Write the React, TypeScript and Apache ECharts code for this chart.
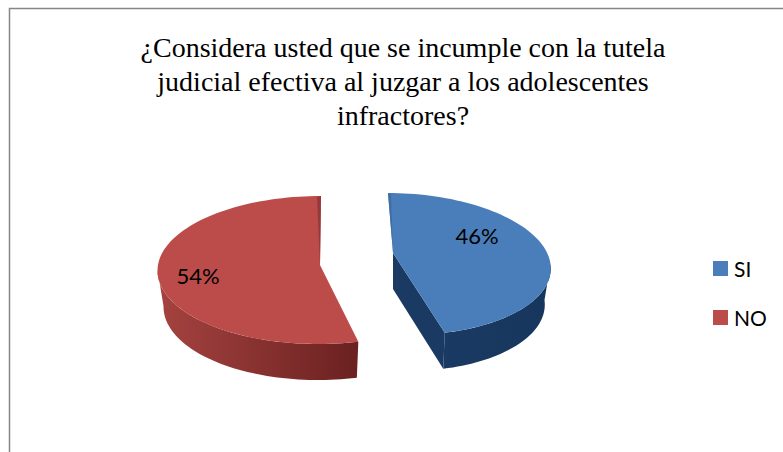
import React, { useEffect, useRef } from "react";
import * as echarts from "echarts";

const categories = ["SI", "NO"];
const shares = [46, 54];
const titleLines = [
  "¿Considera usted que se incumple con la tutela",
  "judicial efectiva al juzgar a los adolescentes",
  "infractores?",
];

const topColors = ["#4a7ebb", "#bb4c4a"];
const wallStops = [
  ["#1a3a63", "#17365d"],
  ["#a54340", "#6a2120"],
];
const edgeColors = ["#3f6ea6", "#96393a"];

// Perspective geometry of each exploded slice
const shapes = [
  { cx: 388, cy: 264, rx: 153, ry: 71, shear: 19, hubX: 393, hubY: 253, labelX: 477, labelY: 235 },
  { cx: 321, cy: 270, rx: 162, ry: 74, shear: -3, hubX: 320, hubY: 265, labelX: 198, labelY: 275 },
];
const DEPTH = 36;
const TAPER = 6;

const total = shares.reduce((a, b) => a + b, 0);

function makeRender(index: number) {
  const g = shapes[index];
  const start = (shares.slice(0, index).reduce((a, b) => a + b, 0) / total) * 360;
  const end = start + (shares[index] / total) * 360;
  const rad = (d: number) => (d * Math.PI) / 180;
  const rim = (deg: number): [number, number] => {
    const t = rad(deg);
    return [
      g.cx + g.rx * Math.sin(t) + (g.shear * (1 - Math.cos(t))) / 2,
      g.cy - g.ry * Math.cos(t),
    ];
  };
  const low = (deg: number): [number, number] => {
    const p = rim(deg);
    return [p[0] - TAPER * Math.sin(rad(deg)), p[1] + DEPTH];
  };
  const sweep = (a: number, b: number, f: (d: number) => [number, number]) => {
    const out: [number, number][] = [];
    const n = Math.max(2, Math.ceil(Math.abs(b - a) / 2));
    for (let i = 0; i <= n; i++) out.push(f(a + ((b - a) * i) / n));
    return out;
  };
  return (_params: any, api: any) => {
    const value = api.value(0);
    const children: any[] = [];
    const wallA = Math.max(start, 90);
    const wallB = Math.min(end, 270);
    const wallFill = {
      type: "linear",
      x: 0,
      y: 0,
      x2: 1,
      y2: 0,
      colorStops: [
        { offset: 0, color: wallStops[index][0] },
        { offset: 1, color: wallStops[index][1] },
      ],
    };
    if (index === 0) {
      // cut face toward the viewer
      children.push({
        type: "polygon",
        shape: {
          points: [
            [g.hubX, g.hubY],
            rim(end),
            low(end),
            [g.hubX, g.hubY + DEPTH],
          ],
        },
        style: { fill: wallStops[0][0] },
      });
    }
    children.push({
      type: "polygon",
      shape: { points: [...sweep(wallA, wallB, rim), ...sweep(wallB, wallA, low)] },
      style: { fill: wallFill },
    });
    children.push({
      type: "polygon",
      shape: { points: [[g.hubX, g.hubY], ...sweep(start, end, rim)] },
      style: { fill: topColors[index] },
    });
    // narrow rear cut face
    const back = index === 0 ? rim(start) : rim(end);
    children.push({
      type: "polygon",
      shape: {
        points: [
          [g.hubX, g.hubY],
          back,
          [back[0] + (index === 0 ? 3 : -4), back[1] + 1],
        ],
      },
      style: { fill: edgeColors[index] },
    });
    children.push({
      type: "text",
      style: {
        x: g.labelX,
        y: g.labelY,
        text: `${value}%`,
        fill: "#000000",
        font: "22px Lato",
        align: "center",
        verticalAlign: "middle",
      },
    });
    return { type: "group", children };
  };
}

export default function App() {
  const ref = useRef<HTMLDivElement>(null);
  useEffect(() => {
    const chart = echarts.init(ref.current!, undefined, { renderer: "svg" });
    chart.setOption({
      animation: false,
      backgroundColor: "#ffffff",
      title: {
        text: titleLines.join("\n"),
        left: 398,
        top: 25,
        textAlign: "center",
        textStyle: {
          fontFamily: "Liberation Serif",
          fontSize: 28,
          fontWeight: "normal",
          color: "#000000",
          lineHeight: 34,
        },
      },
      legend: {
        orient: "vertical",
        left: 713,
        top: 258,
        padding: 0,
        data: categories,
        icon: "rect",
        itemWidth: 15,
        itemHeight: 15,
        itemGap: 28,
        textStyle: { fontFamily: "Lato", fontSize: 21, color: "#000000", padding: [0, 0, 0, 1] },
      },
      graphic: [
        {
          type: "polyline",
          silent: true,
          shape: { points: [[9.5, 460], [9.5, 8.5], [800, 8.5]] },
          style: { stroke: "#868686", lineWidth: 1.5, fill: "none" },
        },
      ],
      series: categories.map((name, i) => ({
        type: "custom",
        name,
        coordinateSystem: "none",
        renderItem: makeRender(i),
        itemStyle: { color: topColors[i] },
        data: [[shares[i]]],
      })),
    });
    return () => chart.dispose();
  }, []);
  return <div ref={ref} style={{ position: "fixed", left: 0, top: 0, width: 783, height: 452 }} />;
}
